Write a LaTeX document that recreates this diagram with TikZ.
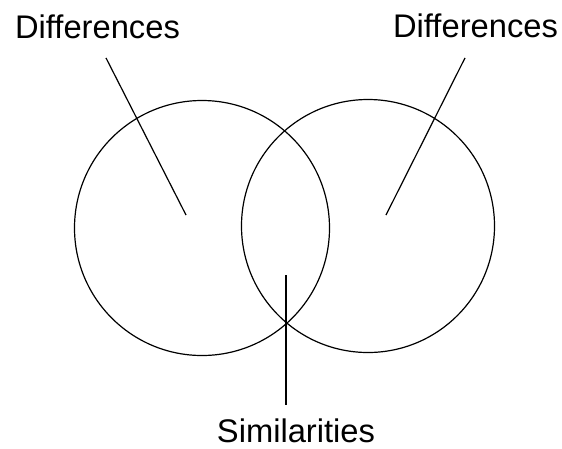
\documentclass[tikz,border=0pt]{standalone}
\usepackage{fontspec}
\setmainfont{Liberation Sans}
\usepackage{tikz}

\begin{document}
\begin{tikzpicture}[x=1pt, y=-1pt, line width=1.2pt]
        \useasboundingbox (0,0) rectangle (562,448);
        \tikzset{setlabel/.style={anchor=base, inner sep=0pt, font=\fontsize{32.7}{36}\selectfont}}

        % 两个集合
        \node[draw, circle, minimum size=255pt, inner sep=0pt] (leftset) at (202,228) {};
        \node[draw, circle, minimum size=253pt, inner sep=0pt] (rightset) at (368,226) {};

        % 标签
        \node[setlabel] (leftlabel) at (97.5,38) {Differences};
        \node[setlabel] (rightlabel) at (475.5,37) {Differences};
        \node[setlabel] (simlabel) at (296,442) {Similarities};

        % 引线端点
        \coordinate (leftin) at (186,215);
        \coordinate (rightin) at (386,215);
        \coordinate (simin) at (286,275);

        % 引线
        \draw (leftlabel.south) ++(8.5,19) coordinate (leftout) -- (leftin);
        \draw (rightlabel.south) ++(-10.5,20) coordinate (rightout) -- (rightin);
        \draw (simlabel.north) ++(-10,-13) coordinate (simout) -- (simin);
    \end{tikzpicture}
\end{document}
